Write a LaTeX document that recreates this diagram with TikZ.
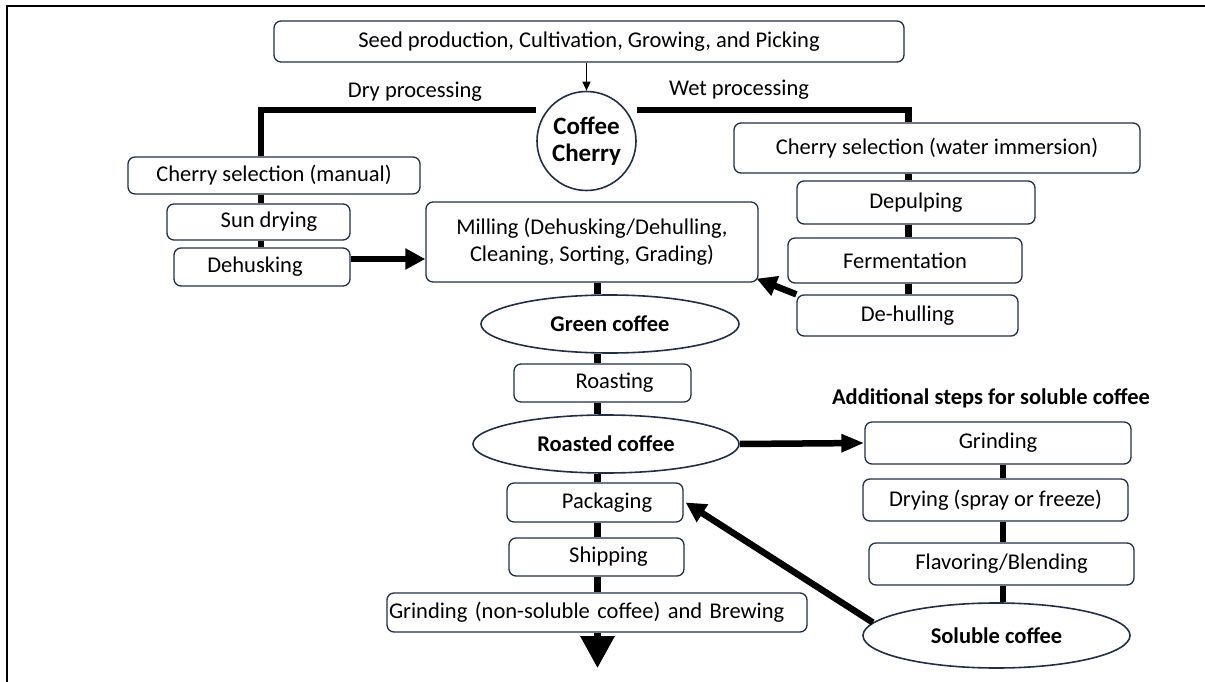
\documentclass[tikz,border=0pt]{standalone}
\usepackage{fontspec}
\setmainfont{Carlito}
\usetikzlibrary{arrows.meta,shapes.geometric,calc}
\definecolor{edge}{RGB}{32,46,70}
\begin{document}
\begin{tikzpicture}[x=1pt,y=-1pt,
  every node/.style={font=\fontsize{22.5}{27}\selectfont, inner sep=0pt},
  box/.style={draw=edge, line width=1.3pt, rounded corners=7pt, align=center},
  oval/.style={draw=edge, line width=1.6pt, ellipse, font=\fontsize{22.5}{27}\selectfont\bfseries},
  thickline/.style={line width=6.5pt, black},
  bigarrow/.style={line width=6.5pt, black, -{Triangle[length=20pt,width=20pt]}},
  lbl/.style={font=\fontsize{22.5}{27}\selectfont}
]
\useasboundingbox (0,0) rectangle (1205,682);
% frame
\draw[line width=2.4pt] (7,682) -- (7,6) -- (1205,6);

% nodes
\node[box, minimum width=630pt, minimum height=41pt] (top) at (589,41.5) {Seed production, Cultivation, Growing, and Picking};
\node[draw=edge, line width=1.6pt, circle, minimum size=99pt, align=center, font=\fontsize{25}{27}\selectfont\bfseries] (cc) at (586.5,141) {Coffee\\Cherry};
\node[lbl] (dryl) at (415,92) {Dry processing};
\node[lbl] (wetl) at (739,90) {Wet processing};

\node[box, minimum width=292pt, minimum height=37pt] (csm) at (274,175.5) {Cherry selection (manual)};
\node[box, minimum width=183pt, minimum height=36pt] (sun) at (258.5,222) {\hspace*{21pt}Sun drying};
\node[box, minimum width=176pt, minimum height=38pt] (dhk) at (262,267) {Dehusking\hspace*{14pt}};
\node[box, minimum width=332pt, minimum height=80pt] (mill) at (592,242) {Milling (Dehusking/Dehulling,\\Cleaning, Sorting, Grading)};

\node[box, minimum width=406pt, minimum height=50pt] (csw) at (937,148) {Cherry selection (water immersion)};
\node[box, minimum width=238pt, minimum height=43pt] (dep) at (916,202.5) {Depulping};
\node[box, minimum width=234pt, minimum height=45pt] (fer) at (905,260.5) {Fermentation};
\node[box, minimum width=221pt, minimum height=41pt] (dhl) at (907.5,315.5) {De-hulling};

\node[oval, minimum width=258pt, minimum height=58pt] (gc) at (610,324) {Green coffee};
\node[box, minimum width=177pt, minimum height=38pt] (roast) at (602.5,383) {\hspace*{24pt}Roasting};
\node[oval, minimum width=266pt, minimum height=58pt] (rc) at (606,444) {Roasted coffee};
\node[box, minimum width=176pt, minimum height=39pt] (pack) at (595,502.5) {\hspace*{24pt}Packaging};
\node[box, minimum width=175pt, minimum height=38pt] (ship) at (596.5,557) {\hspace*{24pt}Shipping};
\node[box, minimum width=420pt, minimum height=39pt, text width=416pt, inner xsep=2pt, align=left] (grb) at (597,612.5) {Grinding (non-soluble coffee) and Brewing};

\node[lbl, font=\fontsize{22.5}{27}\selectfont\bfseries] (addl) at (991,398) {Additional steps for soluble coffee};
\node[box, minimum width=266pt, minimum height=42pt] (grd) at (998,443) {Grinding};
\node[box, minimum width=265pt, minimum height=42pt] (dry2) at (995.5,500) {Drying (spray or freeze)};
\node[box, minimum width=265pt, minimum height=42pt] (flv) at (1001.5,564) {Flavoring/Blending};
\node[oval, minimum width=267pt, minimum height=65pt] (sol) at (996.5,635.5) {Soluble coffee};

% coordinates for routing
\coordinate (dryx) at (261,110);
\coordinate (wetx) at (908.5,110);
\coordinate (cx) at (597.5,0);
\coordinate (rx) at (1003,0);
\coordinate (endp) at (597.5,668);

% thin arrow
\draw[line width=1.3pt, -{Triangle[length=9pt,width=8pt]}] (top.south -| cc) -- (cc.north);

% dry processing branch
\draw[thickline] (cc.west |- dryx) -- (dryx) -- (dryx |- csm.north);
\draw[thickline] (dryx |- csm.south) -- (dryx |- sun.north);
\draw[thickline] (dryx |- sun.south) -- (dryx |- dhk.north);
\draw[bigarrow] ([yshift=8pt]dhk.east) -- ([yshift=8pt]dhk.east -| mill.west);

% wet processing branch
\draw[thickline] (cc.east |- wetx) -- (wetx) -- (wetx |- csw.north);
\draw[thickline] (wetx |- csw.south) -- (wetx |- dep.north);
\draw[thickline] (wetx |- dep.south) -- (wetx |- fer.north);
\draw[thickline] (wetx |- fer.south) -- (wetx |- dhl.north);
\draw[bigarrow] (dhl.north west) -- ([xshift=-2pt,yshift=4pt]mill.south east);

% main column
\draw[thickline] (cx |- mill.south) -- (cx |- gc.north);
\draw[thickline] (cx |- gc.south) -- (cx |- roast.north);
\draw[thickline] (cx |- roast.south) -- (cx |- rc.north);
\draw[thickline] (cx |- rc.south) -- (cx |- pack.north);
\draw[thickline] (cx |- pack.south) -- (cx |- ship.north);
\draw[thickline] (cx |- ship.south) -- (cx |- grb.north);
\draw[line width=6.5pt, -{Triangle[length=32pt,width=33pt]}] (cx |- grb.south) -- (endp);

% soluble column
\draw[bigarrow, -{Triangle[length=23pt,width=17pt]}] (rc.east) -- (grd.west);
\draw[thickline] (rx |- grd.south) -- (rx |- dry2.north);
\draw[thickline] (rx |- dry2.south) -- (rx |- flv.north);
\draw[thickline] (rx |- flv.south) -- (rx |- sol.north);
\draw[bigarrow] (sol.174) -- ([xshift=2pt]pack.east);
\end{tikzpicture}
\end{document}
